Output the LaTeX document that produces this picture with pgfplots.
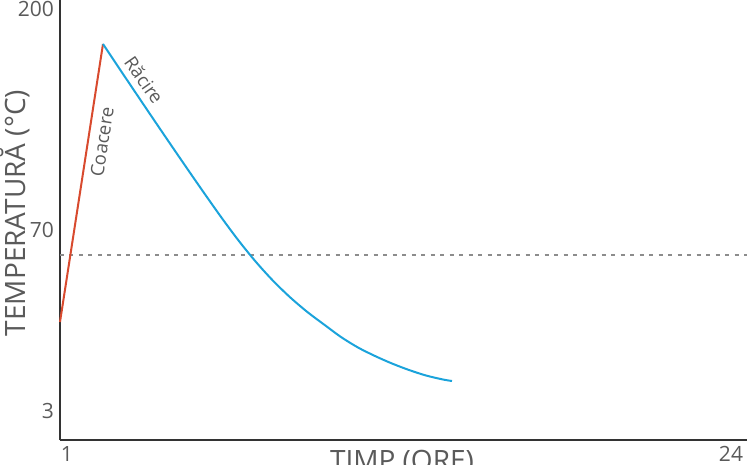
\documentclass[border=0pt]{standalone}
\usepackage{pgfplots}
\pgfplotsset{compat=1.18}
\usepackage{fontspec}
\setmainfont{Open Sans}
\definecolor{redc}{HTML}{D84A2E}
\definecolor{bluec}{HTML}{1BA3DB}
\definecolor{axc}{HTML}{333333}
\definecolor{txtc}{HTML}{5A5A5A}
\definecolor{dashc}{HTML}{8C8C8C}
\begin{document}
\begin{tikzpicture}[x=1pt,y=1pt]
\path[use as bounding box, clip] (-60,-24) rectangle (687,440);
\begin{axis}[
  at={(0,0)}, anchor=south west,
  scale only axis, width=687pt, height=440pt,
  xmin=0, xmax=687, ymin=0, ymax=440,
  axis x line=bottom, axis y line=left,
  axis line style={-, draw=axc, line width=2.4pt},
  major tick length=0pt,
  xtick={7,671}, xticklabels={1,24},
  ytick={29,210,431}, yticklabels={3,70,200},
  tick label style={font=\fontsize{21}{21}\selectfont, text=txtc},
  yticklabel style={anchor=east, inner sep=0pt, xshift=-6pt},
  xticklabel style={anchor=north, inner sep=0pt, yshift=-6pt},
  /pgf/number format/assume math mode=true,
  xlabel={TIMP (ORE)}, ylabel={TEMPERATURĂ (°C)},
  every axis x label/.style={at={(axis cs:342,0)}, anchor=north, inner sep=0pt, yshift=-10pt, font=\fontsize{28}{28}\selectfont, text=txtc},
  every axis y label/.style={at={(axis cs:-45,227)}, anchor=center, rotate=90, inner sep=0pt, font=\fontsize{28}{28}\selectfont, text=txtc},
  clip=false,
]
\addplot[dashc, line width=1.6pt, dash pattern=on 4pt off 5.5pt] coordinates {(0,185) (687,185)};
\addplot[redc, line width=2pt] coordinates {(0,118) (43,396)};
\addplot[bluec, line width=2pt, smooth, tension=0.5] coordinates {
 (43,396) (60,370.5) (77,345.2) (94,320) (111,295) (128,270.2) (145,245.7)
 (162,221.7) (179,198.9) (196,178) (213,159.3) (230,142.8) (247,128.3)
 (264,115.5) (281,103) (298,92.5) (315,84) (332,76.5) (349,70) (366,64.5)
 (383,60.5) (392,59)};
\node[rotate=81, font=\fontsize{18.5}{18.5}\selectfont, text=txtc] at (axis cs:42,298) {Coacere};
\node[rotate=-55, font=\fontsize{18.5}{18.5}\selectfont, text=txtc] at (axis cs:84,360) {Răcire};
\end{axis}
\end{tikzpicture}
\end{document}
